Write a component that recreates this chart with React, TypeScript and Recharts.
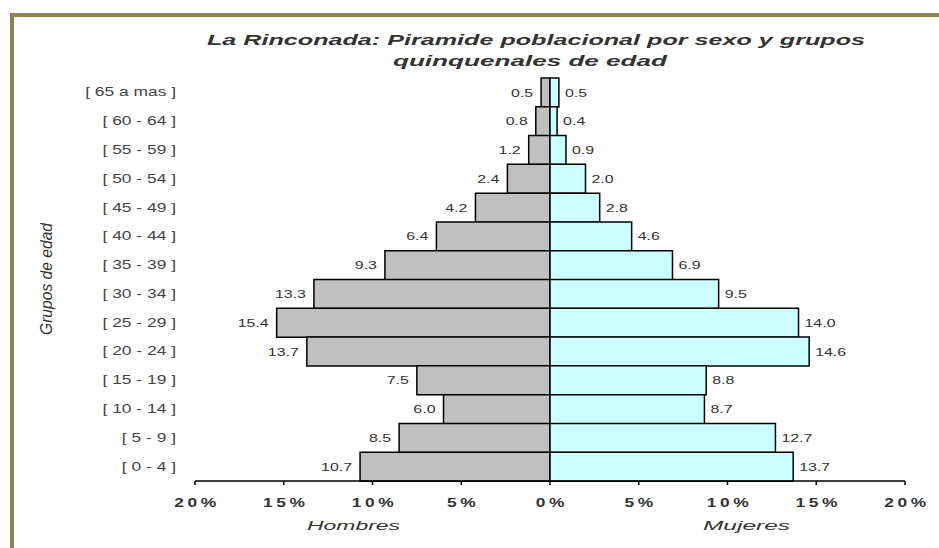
import React from 'react';
import { BarChart, Bar, XAxis, YAxis, LabelList } from 'recharts';

// age groups, top to bottom as drawn
const groups = [
  '[ 65 a mas ]',
  '[ 60 - 64 ]',
  '[ 55 - 59 ]',
  '[ 50 - 54 ]',
  '[ 45 - 49 ]',
  '[ 40 - 44 ]',
  '[ 35 - 39 ]',
  '[ 30 - 34 ]',
  '[ 25 - 29 ]',
  '[ 20 - 24 ]',
  '[ 15 - 19 ]',
  '[ 10 - 14 ]',
  '[ 5 - 9 ]',
  '[ 0 - 4 ]',
];
const hombres = [0.5, 0.8, 1.2, 2.4, 4.2, 6.4, 9.3, 13.3, 15.4, 13.7, 7.5, 6.0, 8.5, 10.7];
const mujeres = [0.5, 0.4, 0.9, 2.0, 2.8, 4.6, 6.9, 9.5, 14.0, 14.6, 8.8, 8.7, 12.7, 13.7];
const xTicks = [-20, -15, -10, -5, 0, 5, 10, 15, 20];

const data = groups.map((g, i) => ({ group: g, hombres: -hombres[i], mujeres: mujeres[i] }));

const FONT = '"Liberation Sans", Arial, sans-serif';
const STRETCH = 1.45;

const CategoryTick = (props: any) => {
  const { x, y, payload } = props;
  return (
    <text
      transform={`translate(${x},${y + 4}) scale(${STRETCH},1)`}
      textAnchor="end"
      fontSize={12}
      fontFamily={FONT}
      fill="#444"
    >
      {payload.value}
    </text>
  );
};

const PercentTick = (props: any) => {
  const { x, y, payload } = props;
  return (
    <text
      transform={`translate(${x + 2},${y + 20}) scale(${STRETCH},1)`}
      textAnchor="middle"
      fontSize={12}
      fontWeight="bold"
      fontFamily={FONT}
      fill="#333"
      letterSpacing={2.5}
    >
      {Math.abs(payload.value) + '%'}
    </text>
  );
};

const makeLabel = (side: 'left' | 'right') => (props: any) => {
  const vb = props.viewBox || props;
  const x = Number(vb.x);
  const w = Number(vb.width);
  const y = Number(vb.y);
  const h = Number(vb.height);
  const edge = side === 'left' ? Math.min(x, x + w) - 8 : Math.max(x, x + w) + 6;
  return (
    <text
      transform={`translate(${edge},${y + h / 2 + 4}) scale(${STRETCH},1)`}
      textAnchor={side === 'left' ? 'end' : 'start'}
      fontSize={11}
      fontFamily={FONT}
      fill="#333"
    >
      {Math.abs(Number(props.value)).toFixed(1)}
    </text>
  );
};

export default function App() {
  return (
    <div style={{ position: 'absolute', left: 0, top: 0, width: 939, height: 548, background: '#fff' }}>
      <BarChart
        width={939}
        height={548}
        data={data}
        layout="vertical"
        stackOffset="sign"
        barCategoryGap={0}
        margin={{ top: 78, right: 34, bottom: 37, left: 55 }}
      >
        <XAxis
          type="number"
          domain={[-20, 20]}
          ticks={xTicks}
          interval={0}
          height={30}
          axisLine={{ stroke: '#000', strokeWidth: 1.5 }}
          tickLine={{ stroke: '#000', strokeWidth: 1.5 }}
          tickSize={4}
          tick={<PercentTick />}
        />
        <YAxis
          type="category"
          dataKey="group"
          width={140}
          axisLine={false}
          tickLine={false}
          tickMargin={13}
          interval={0}
          tick={<CategoryTick />}
        />
        <Bar dataKey="hombres" stackId="a" fill="#c0c0c0" stroke="#000" strokeWidth={1.5} isAnimationActive={false}>
          <LabelList dataKey="hombres" content={makeLabel('left')} />
        </Bar>
        <Bar dataKey="mujeres" stackId="a" fill="#ccffff" stroke="#000" strokeWidth={1.5} isAnimationActive={false}>
          <LabelList dataKey="mujeres" content={makeLabel('right')} />
        </Bar>
      </BarChart>
      <svg
        width={939}
        height={548}
        style={{ position: 'absolute', left: 0, top: 0, pointerEvents: 'none' }}
        fontFamily={FONT}
      >
        {/* frame */}
        <rect x={10} y={13} width={929} height={4} fill="#8f8352" />
        <rect x={10} y={13} width={4} height={535} fill="#8f8352" />
        {/* title */}
        <text x={207} y={45} fontSize={14} fontStyle="italic" fontWeight="bold" fill="#333" textLength={658} lengthAdjust="spacingAndGlyphs">
          La Rinconada: Piramide poblacional por sexo y grupos
        </text>
        <text x={393} y={66} fontSize={14} fontStyle="italic" fontWeight="bold" fill="#333" textLength={274} lengthAdjust="spacingAndGlyphs">
          quinquenales de edad
        </text>
        {/* axis titles */}
        <text x={307} y={530} fontSize={12} fontStyle="italic" fill="#333" textLength={93} lengthAdjust="spacingAndGlyphs">
          Hombres
        </text>
        <text x={703} y={530} fontSize={12} fontStyle="italic" fill="#333" textLength={87} lengthAdjust="spacingAndGlyphs">
          Mujeres
        </text>
        <text
          transform="translate(52,335) rotate(-90) scale(1,1.35)"
          fontSize={12}
          fontStyle="italic"
          fill="#333"
          textLength={112}
          lengthAdjust="spacingAndGlyphs"
        >
          Grupos de edad
        </text>
      </svg>
    </div>
  );
}
